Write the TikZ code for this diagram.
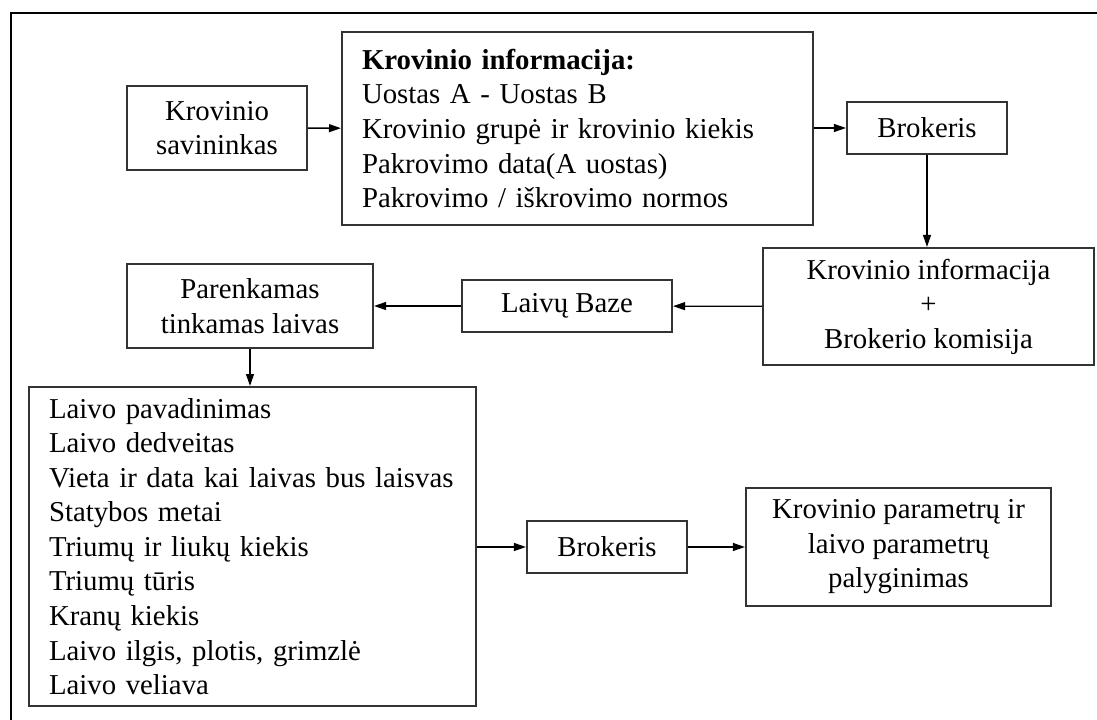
\documentclass[tikz,border=0pt]{standalone}
\usepackage{fontspec}
\setmainfont{Liberation Serif}
\usetikzlibrary{arrows.meta}
\begin{document}
\begin{tikzpicture}[x=0.416667pt,y=-0.416667pt,
  box/.style={draw=black!80, line width=0.85pt, fill=white,
    font=\fontsize{12}{14.4}\selectfont, inner sep=0pt, align=center},
  listbox/.style={box, align=left, inner xsep=8.33pt},
  link/.style={line width=0.55pt, -{Triangle[length=5pt,width=3.3pt]}},
  frame/.style={line width=0.9pt}]
\useasboundingbox (0,0) rectangle (1097,720);
% page frame (top and left rules)
\draw[frame] (1097,13) -- (11,13) -- (11,720);

% first row
\node[box, minimum width=75pt, minimum height=35pt] (owner) at (217,128)
  {Krovinio\\savininkas};
\node[listbox, text width=179.58pt, minimum height=80.4pt] (cargo) at (577.5,128.5)
  {\textbf{Krovinio informacija:}\\Uostas A - Uostas B\\Krovinio grupė ir krovinio kiekis\\Pakrovimo data(A uostas)\\Pakrovimo / iškrovimo normos};
\node[box, minimum width=66.67pt, minimum height=21.67pt] (broker) at (927,128)
  {Brokeris};

% second row
\node[box, minimum width=137.9pt, minimum height=48.75pt] (offer) at (928.5,306.5)
  {Krovinio informacija\\+\\Brokerio komisija};
\node[box, minimum width=87.5pt, minimum height=21.67pt] (base) at (567,306)
  {Laivų Baze};
\node[box, minimum width=102.5pt, minimum height=35pt] (pick) at (250,306)
  {Parenkamas\\tinkamas laivas};

% third row
\node[listbox, text width=169.58pt, minimum height=132.9pt] (ship) at (252.5,546.5)
  {Laivo pavadinimas\\Laivo dedveitas\\Vieta ir data kai laivas bus laisvas\\Statybos metai\\Triumų ir liukų kiekis\\Triumų tūris\\Kranų kiekis\\Laivo ilgis, plotis, grimzlė\\Laivo veliava};
\node[box, minimum width=66.67pt, minimum height=21.67pt] (broker2) at (607,547)
  {Brokeris};
\node[box, minimum width=127.1pt, minimum height=49.2pt] (compare) at (898.5,547)
  {Krovinio parametrų ir\\laivo parametrų\\palyginimas};

% connectors
\draw[link] (owner) -- (cargo);
\draw[link] (cargo.east |- broker.west) -- (broker.west);
\draw[link] (broker.south) -- (broker.south |- offer.north);
\draw[link] (offer) -- (base);
\draw[link] (base) -- (pick);
\draw[link] (pick.south) -- (pick.south |- ship.north);
\draw[link] (ship.east |- broker2.west) -- (broker2.west);
\draw[link] (broker2) -- (compare);
\end{tikzpicture}
\end{document}
